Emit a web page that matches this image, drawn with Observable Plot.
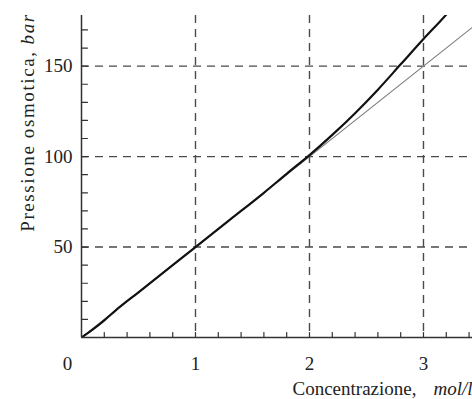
<!DOCTYPE html>
<html>
<head>
<meta charset="utf-8">
<script src="https://cdn.jsdelivr.net/npm/d3@7"></script>
<script src="https://cdn.jsdelivr.net/npm/@observablehq/plot@0.6"></script>
<style>
  html, body { margin: 0; padding: 0; background: #fff; }
</style>
</head>
<body>
<div id="chart"></div>
<script>
// Measured osmotic pressure (bar) against concentration (mol/l)
const concentration = [0, 0.1, 0.2, 0.3, 0.5, 0.8, 1.0, 1.3, 1.6, 1.8, 2.0, 2.2, 2.4, 2.6, 2.8, 3.0, 3.2, 3.3];
const pressure      = [0, 4.5, 9.5, 15, 25, 40, 50, 65, 80, 90.5, 100.8, 112, 124, 137, 151, 165, 178.5, 186];

// Ideal (van 't Hoff) straight line
const idealConcentration = [0, 1, 2, 3, 3.5];
const idealPressure      = [0, 50, 100, 150, 175];

// Axis ticks
const xMajor = [1, 2, 3];
const yMajor = [50, 100, 150];
const xMinor = [0.2, 0.4, 0.6, 0.8, 1, 1.2, 1.4, 1.6, 1.8, 2, 2.2, 2.4, 2.6, 2.8, 3, 3.2, 3.4];
const yMinor = [10, 20, 30, 40, 50, 60, 70, 80, 90, 100, 110, 120, 130, 140, 150, 160, 170];
const originLabel = ["0"];

// Axis titles (unit part set in italics)
const xTitle = "Concentrazione,";
const xUnit = "mol/l";
const yTitle = "Pressione osmotica,";
const yUnit = "bar";

const real = concentration.map((c, i) => ({c, p: pressure[i]}));
const ideal = idealConcentration.map((c, i) => ({c, p: idealPressure[i]}));

const gridStyle = {stroke: "#4a4a4a", strokeOpacity: 1, strokeWidth: 1.4, strokeDasharray: "8,6"};

// short inward tick shapes for the vector mark
const tickUp = {draw(context, l) { context.moveTo(0, 0); context.lineTo(0, -l); }};
const tickRight = {draw(context, l) { context.moveTo(0, 0); context.lineTo(l, 0); }};

const chart = Plot.plot({
  width: 472,
  height: 399,
  marginLeft: 81,
  marginTop: 15,
  marginRight: 0,
  marginBottom: 62,
  x: {domain: [0, 3.43]},
  y: {domain: [0, 178]},
  style: {fontFamily: "'Liberation Serif', 'Times New Roman', serif", fontSize: "19px", color: "#222", background: "#fff"},
  marks: [
    Plot.gridX(xMajor, gridStyle),
    Plot.gridY(yMajor, gridStyle),
    Plot.line(ideal, {x: "c", y: "p", stroke: "#7a7a7a", strokeWidth: 1.1, clip: true}),
    Plot.line(real, {x: "c", y: "p", stroke: "#111", strokeWidth: 2.2, curve: "monotone-x", clip: true}),
    Plot.ruleX([0], {stroke: "#333", strokeWidth: 1.5}),
    Plot.ruleY([0], {stroke: "#333", strokeWidth: 1.5}),
    // inward-pointing tick marks
    Plot.vector(xMinor, {x: d => d, y: 0, length: 5, anchor: "start", shape: tickUp, stroke: "#333", strokeWidth: 1.2}),
    Plot.vector(yMinor, {x: 0, y: d => d, length: 6, anchor: "start", shape: tickRight, stroke: "#333", strokeWidth: 1.2}),
    // tick labels
    Plot.axisX(xMajor, {tickSize: 0, tickPadding: 19, tickFormat: d => String(d), label: null, fontSize: 19}),
    Plot.axisY(yMajor, {tickSize: 0, tickPadding: 9, tickFormat: d => String(d), label: null, fontSize: 19}),
    Plot.text(originLabel, {x: 0, y: 0, text: d => d, dx: -14, dy: 19, lineAnchor: "top", fontSize: 19}),
    // axis titles
    Plot.text([xTitle], {frameAnchor: "bottom-left", text: d => d, dx: 211, dy: 57, textAnchor: "start", lineAnchor: "bottom", fontSize: 19}),
    Plot.text([yTitle], {frameAnchor: "left", text: d => d, rotate: -90, dx: -48, dy: -54, textAnchor: "middle", lineAnchor: "bottom", fontSize: 19})
  ]
});

// append the italic units to the axis titles
const svg = d3.select(chart);
svg.selectAll("text").filter(function() { return this.textContent === xTitle; })
  .append("tspan").attr("dx", 17).attr("font-style", "italic").text(xUnit);
svg.selectAll("text").filter(function() { return this.textContent === yTitle; })
  .attr("letter-spacing", "1.6px")
  .append("tspan").attr("dx", 6).attr("font-style", "italic").text(yUnit);

document.getElementById("chart").appendChild(chart);
</script>
</body>
</html>
